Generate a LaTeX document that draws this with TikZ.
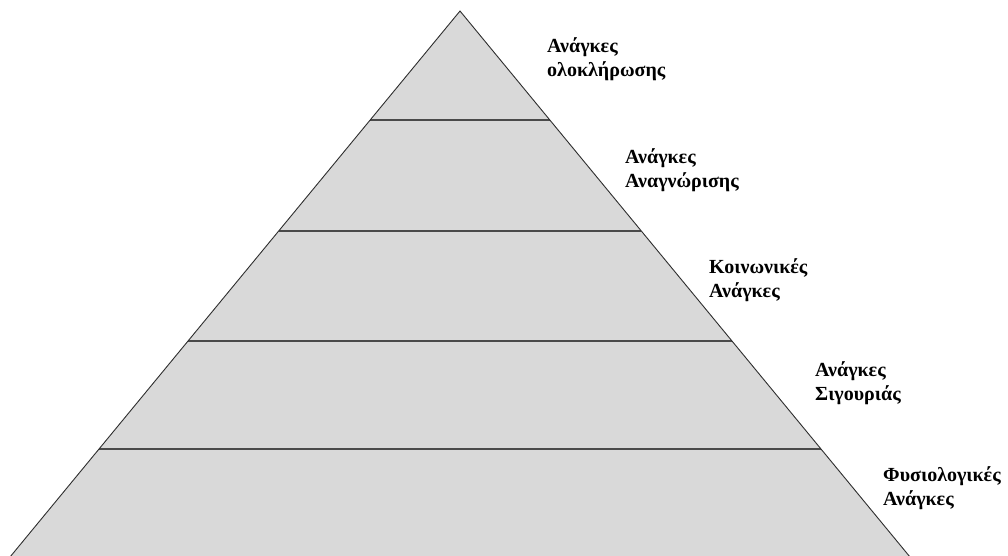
\documentclass[tikz,border=0pt]{standalone}
\usepackage{fontspec}
\setmainfont{Liberation Serif}
\definecolor{pyrfill}{HTML}{D9D9D9}
\definecolor{edgecol}{HTML}{2E2E2E}
\definecolor{levelcol}{HTML}{4A4A4A}
\tikzset{
  lbl/.style={anchor=base west, inner sep=0pt, font=\fontsize{20}{23.5}\selectfont\bfseries, align=left},
  side/.style={draw=edgecol, line width=0.9pt},
  level/.style={draw=levelcol, line width=1.3pt}
}
\begin{document}
\begin{tikzpicture}[x=1pt,y=-1pt]
\useasboundingbox (0,0) rectangle (1008,555);
\clip (0,0) rectangle (1008,555);
\coordinate (apex) at (460,11);
\coordinate (bl) at (10,557);
\coordinate (br) at (910,557);
\fill[pyrfill] (apex) -- (bl) -- (br) -- cycle;
% level lines
\foreach \y [count=\i] in {120,231,341,449}{
  \pgfmathsetmacro{\dx}{(\y-11)/546*450}
  \coordinate (L\i) at ({460-\dx},\y);
  \coordinate (R\i) at ({460+\dx},\y);
  \draw[level] (L\i) -- (R\i);
}
\draw[side] (bl) -- (apex) -- (br);
\node[lbl] (t1) at (547,76) {Ανάγκες\\ολοκλήρωσης};
\node[lbl] (t2) at (625,187) {Ανάγκες\\Αναγνώρισης};
\node[lbl] (t3) at (709,297) {Κοινωνικές\\Ανάγκες};
\node[lbl] (t4) at (815,400) {Ανάγκες\\Σιγουριάς};
\node[lbl] (t5) at (883,505) {Φυσιολογικές\\Ανάγκες};
\end{tikzpicture}
\end{document}
